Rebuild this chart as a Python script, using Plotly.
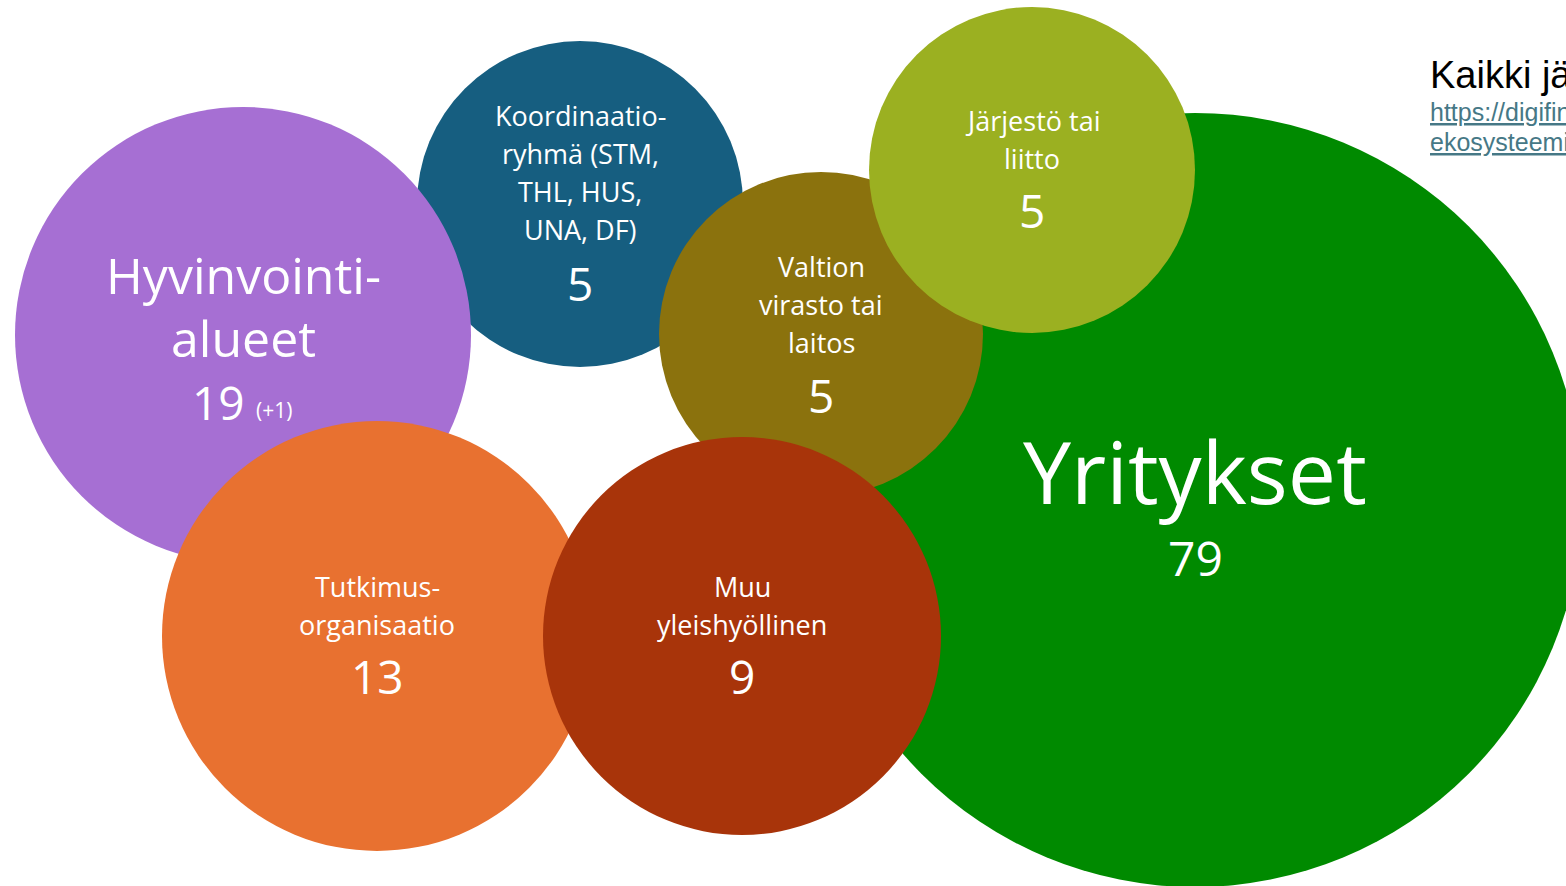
import plotly.graph_objects as go

# ---- data ----
categories = ["Yritykset", "Koordinaatio-ryhmä (STM, THL, HUS, UNA, DF)", "Hyvinvointialueet",
              "Tutkimusorganisaatio", "Valtion virasto tai laitos", "Muu yleishyöllinen",
              "Järjestö tai liitto"]
label_lines = [["Yritykset"],
               ["Koordinaatio-", "ryhmä (STM,", "THL, HUS,", "UNA, DF)"],
               ["Hyvinvointi-", "alueet"],
               ["Tutkimus-", "organisaatio"],
               ["Valtion", "virasto tai", "laitos"],
               ["Muu", "yleishyöllinen"],
               ["Järjestö tai", "liitto"]]
counts = [79, 5, 19, 13, 5, 9, 5]
count_notes = ["", "", "(+1)", "", "", "", ""]
note_title = "Kaikki jäsenet"
note_link = ["https://digifinland.fi/", "ekosysteemi/"]

# ---- layout (pixel positions) ----
W, H = 1566, 886
cx = [1195, 580, 243, 377, 821, 742, 1032]
cy = [500, 204, 335, 636, 334, 636, 170]
rad = [387, 163, 228, 215, 162, 199, 163]
colors = ["#008A00", "#165E80", "#A66FD3", "#E87130", "#8B720D", "#A8340A", "#9BB021"]
label_y0 = [470, 115, 275, 586, 266, 586, 120]
line_gap = [0, 38, 63, 38, 38, 38, 38]
label_size = [86, 27, 50, 27, 27, 27, 27]
count_x = [1195, 580, 218, 377, 821, 742, 1032]
count_y = [557, 283, 402, 676, 395, 676, 210]
count_size = [48, 46, 46, 46, 46, 46, 46]

FONT = "Open Sans"

fig = go.Figure()
fig.add_trace(go.Scatter(x=[0, W], y=[0, H], mode="markers", marker=dict(opacity=0),
                         hoverinfo="skip", showlegend=False))

shapes = []
annotations = []
for i in range(len(categories)):
    shapes.append(dict(type="circle", xref="x", yref="y",
                       x0=cx[i] - rad[i], x1=cx[i] + rad[i],
                       y0=cy[i] - rad[i], y1=cy[i] + rad[i],
                       fillcolor=colors[i], line=dict(width=0), layer="below"))
    for j, line in enumerate(label_lines[i]):
        annotations.append(dict(x=cx[i], y=label_y0[i] + j * line_gap[i], xref="x", yref="y",
                                text=line, showarrow=False, xanchor="center", yanchor="middle",
                                font=dict(family=FONT, size=label_size[i], color="white")))
    annotations.append(dict(x=count_x[i], y=count_y[i], xref="x", yref="y",
                            text=str(counts[i]), showarrow=False, xanchor="center", yanchor="middle",
                            font=dict(family=FONT, size=count_size[i], color="white")))
    if count_notes[i]:
        annotations.append(dict(x=count_x[i] + 36, y=count_y[i] + 8, xref="x", yref="y",
                                text=count_notes[i], showarrow=False, xanchor="left", yanchor="middle",
                                font=dict(family=FONT, size=21, color="white")))

annotations.append(dict(x=1428, y=75, xref="x", yref="y", text=note_title, showarrow=False,
                        xanchor="left", yanchor="middle",
                        font=dict(family="Liberation Sans", size=38, color="black")))
for j, t in enumerate(note_link):
    annotations.append(dict(x=1428, y=112 + j * 30, xref="x", yref="y", text="<u>" + t + "</u>",
                            showarrow=False, xanchor="left", yanchor="middle",
                            font=dict(family="Liberation Sans", size=25, color="#467886")))

fig.update_layout(
    width=W, height=H, margin=dict(l=0, r=0, t=0, b=0),
    paper_bgcolor="white", plot_bgcolor="white",
    xaxis=dict(range=[0, W], visible=False, fixedrange=True),
    yaxis=dict(range=[H, 0], visible=False, fixedrange=True),
    shapes=shapes, annotations=annotations, showlegend=False,
)
fig.write_html("out.html", config={"displayModeBar": False},
               post_script="document.body.style.margin='0px';document.body.style.overflow='hidden';")
